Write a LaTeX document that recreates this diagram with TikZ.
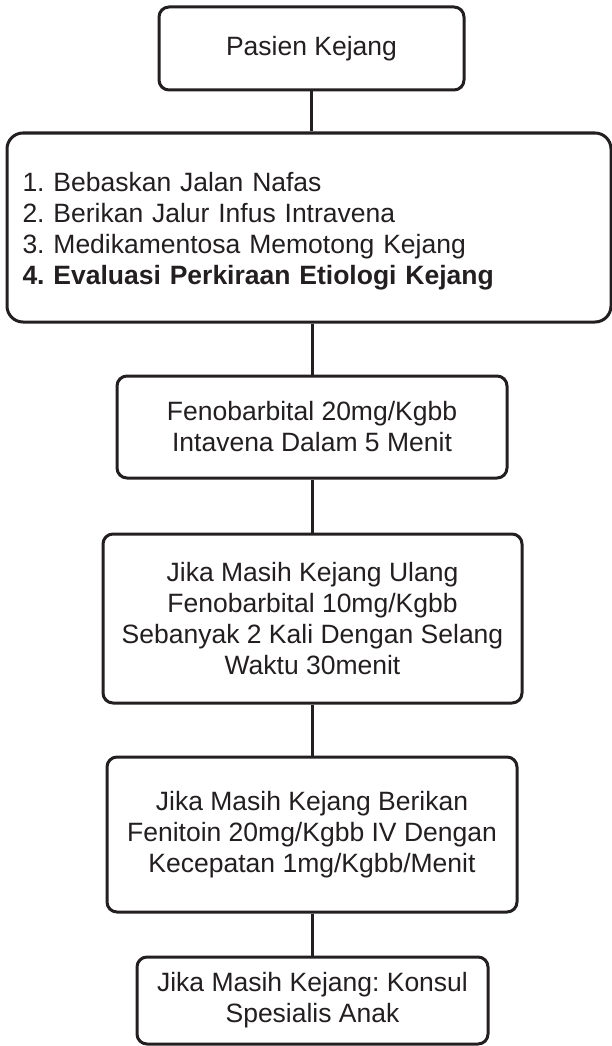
\documentclass[tikz,border=0pt]{standalone}
\usepackage{fontspec}
\setmainfont{Liberation Sans}
\definecolor{ink}{HTML}{231F20}
\begin{document}
\frenchspacing
\begin{tikzpicture}[x=1pt,y=-1pt,
  txt/.style={inner sep=0pt, align=center, text=ink, font=\fontsize{26.5}{31}\selectfont},
  box/.style={txt, draw=ink, line width=3pt, rounded corners=10pt},
  conn/.style={draw=ink, line width=3pt}]
\useasboundingbox[fill=white] (0,0) rectangle (612,1046);
\node[box, minimum width=305pt, minimum height=83pt] (a) at (311.5,48.5) {Pasien Kejang};
\node[box, rounded corners=16pt, minimum width=604pt, minimum height=189pt] (b) at (309,227.5) {};
\node[txt, text width=573pt, align=left] (bt) at ([yshift=-3.5pt]b.center)
  {1. Bebaskan Jalan Nafas\\
   2. Berikan Jalur Infus Intravena\\
   3. Medikamentosa Memotong Kejang\\
   \textbf{4. Evaluasi Perkiraan Etiologi Kejang}};
\node[box, minimum width=390pt, minimum height=102pt] (c) at (312,427)
  {Fenobarbital 20mg/Kgbb\\Intavena Dalam 5 Menit};
\node[box, minimum width=419pt, minimum height=169pt] (d) at (312.5,618.5)
  {Jika Masih Kejang Ulang\\Fenobarbital 10mg/Kgbb\\Sebanyak 2 Kali Dengan Selang\\Waktu 30menit};
\node[box, minimum width=410pt, minimum height=155pt] (e) at (312,834.5)
  {Jika Masih Kejang Berikan\\Fenitoin 20mg/Kgbb IV Dengan\\Kecepatan 1mg/Kgbb/Menit};
\node[box, minimum width=351pt, minimum height=87pt] (f) at (312.5,1000.5)
  {Jika Masih Kejang: Konsul\\Spesialis Anak};
\draw[conn] (a.south) -- (a.south |- b.north);
\draw[conn] (c.north |- b.south) -- (c.north);
\draw[conn] (c.south) -- (c.south |- d.north);
\draw[conn] (c.south |- d.south) -- (c.south |- e.north);
\draw[conn] (c.south |- e.south) -- (c.south |- f.north);
\end{tikzpicture}
\end{document}
